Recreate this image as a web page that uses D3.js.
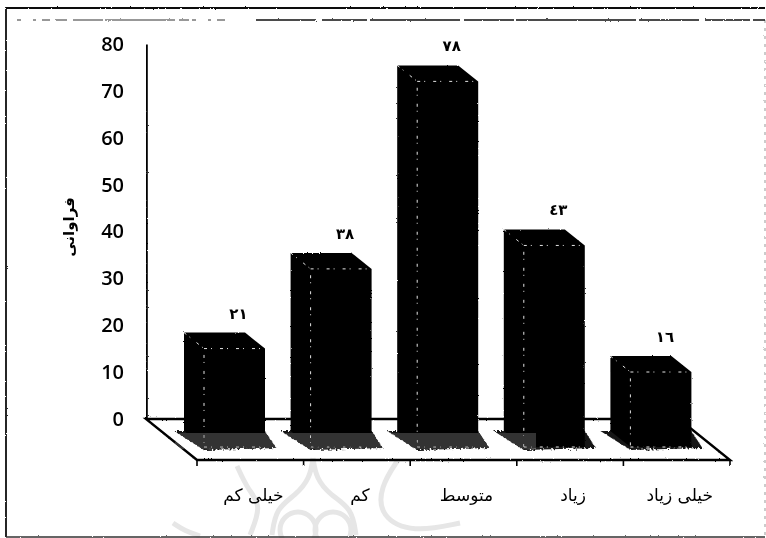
<!DOCTYPE html>
<html lang="fa">
<head>
    <meta charset="UTF-8">
    <title>فراوانی</title>
    <script src="https://d3js.org/d3.v7.min.js"></script>
    <style>
        body { margin: 0; background: #fff; }
        svg { display: block; }
        .yaxis text { font-family: 'Open Sans', sans-serif; font-weight: 600; font-size: 20px; fill: #000; }
        .xaxis text { font-family: 'DejaVu Sans', sans-serif; font-size: 17px; fill: #000; }
        .value { font-family: 'DejaVu Sans', sans-serif; font-weight: bold; font-size: 15px; fill: #000; text-anchor: middle; }
        .ytitle { font-family: 'DejaVu Sans', sans-serif; font-weight: bold; font-size: 15px; fill: #000; text-anchor: middle; }
    </style>
</head>
<body>
<div id="chart"></div>
<script>
    const categories = ["خیلی کم", "کم", "متوسط", "زیاد", "خیلی زیاد"];
    const values = [21, 38, 78, 43, 16];
    const yTicks = [0, 10, 20, 30, 40, 50, 60, 70, 80];
    const yTitle = "فراوانی";

    const width = 766, height = 538;

    // value labels are printed with eastern arabic digits
    const fa = d3.formatLocale({
        decimal: ".", thousands: ",", grouping: [3], currency: ["", ""],
        numerals: ["٠", "١", "٢", "٣", "٤", "٥", "٦", "٧", "٨", "٩"]
    }).format("d");

    const svg = d3.select("#chart").append("svg")
        .attr("width", width)
        .attr("height", height);

    // rough edges, the original is a scan
    const defs = svg.append("defs");
    function roughFilter(id, freq, scale) {
        // user space region, a straight line has an empty bounding box
        const f = defs.append("filter").attr("id", id)
            .attr("filterUnits", "userSpaceOnUse")
            .attr("x", 0).attr("y", 0).attr("width", width).attr("height", height);
        f.append("feTurbulence").attr("type", "fractalNoise").attr("baseFrequency", freq)
            .attr("numOctaves", 2).attr("seed", 3).attr("result", "n");
        f.append("feDisplacementMap").attr("in", "SourceGraphic").attr("in2", "n")
            .attr("scale", scale);
    }
    roughFilter("rough", 0.6, 2);
    roughFilter("rougher", 0.5, 6);

    const y = d3.scaleLinear().domain([0, 80]).range([419, 44]);
    const x = d3.scaleBand().domain(categories).range([197, 730]);

    const y0 = y(0);
    const floorDx = 51, floorDy = 41;   // floor depth in the fake 3d
    const frontOffset = 28;             // front face base below the zero line
    const depthX = 20, depthY = 16;     // bar depth
    const barLeft = 7, barWidth = 61;   // front face inside the band
    const line = d3.line();

    // faint watermark behind everything
    const wm = svg.append("g").attr("fill", "none").attr("stroke", "#e6e6e6").attr("stroke-width", 5);
    const curve = d3.line().curve(d3.curveBasis);
    [
        [[237, 466], [248, 490], [262, 505], [250, 535]],
        [[313, 458], [310, 478], [296, 495], [276, 508], [272, 535]],
        [[313, 458], [316, 478], [330, 495], [352, 508], [356, 535]],
        [[398, 460], [380, 487], [380, 517], [413, 533], [460, 523]],
        [[173, 523], [185, 531], [200, 536]]
    ].forEach(p => wm.append("path").attr("d", curve(p)));
    wm.append("circle").attr("cx", 298).attr("cy", 530).attr("r", 18);
    wm.append("circle").attr("cx", 333).attr("cy", 530).attr("r", 18);

    // outer frame
    const frame = svg.append("g").attr("fill", "none").attr("filter", "url(#rough)");
    frame.append("path").attr("d", line([[6, 537], [6, 8], [765, 8]])).attr("stroke", "#111").attr("stroke-width", 1.8);
    frame.append("path").attr("d", line([[6, 537], [765, 537]])).attr("stroke", "#333").attr("stroke-width", 1.4);
    frame.append("path").attr("d", line([[765, 20], [765, 537]])).attr("stroke", "#999").attr("stroke-width", 1).attr("stroke-dasharray", "3 5");
    frame.append("path").attr("d", line([[17, 20], [230, 20]])).attr("stroke", "#333").attr("stroke-width", 1.1)
        .attr("stroke-dasharray", "4 12 3 6 8 5 12 6 30 2 70 4 10 3");
    frame.append("path").attr("d", line([[256, 20], [765, 20]])).attr("stroke", "#111").attr("stroke-width", 1.4)
        .attr("stroke-dasharray", "60 6 45 3 90 4 50 2 120 3");

    // floor
    const x0 = x.range()[0] - floorDx, x1 = x.range()[1];
    const floor = svg.append("g").attr("fill", "none").attr("stroke", "#000").attr("filter", "url(#rough)");
    floor.append("path")
        .attr("stroke-width", 2.4)
        .attr("d", line([
            [x1 - floorDx, y0],
            [x0, y0],
            [x0 + floorDx, y0 + floorDy],
            [x1, y0 + floorDy],
            [x1 - floorDx, y0]
        ]));
    floor.selectAll(".tick-mark")
        .data(categories.map(c => x(c)).concat([x1]))
        .join("line")
        .attr("x1", d => d).attr("x2", d => d)
        .attr("y1", y0 + floorDy).attr("y2", y0 + floorDy + 6)
        .attr("stroke-width", 1.6);

    const faceLeft = c => x(c) + barLeft;
    const base = y0 + frontOffset;
    const topY = v => y(v) + frontOffset;

    // shadows on the floor
    svg.append("g").attr("filter", "url(#rougher)")
        .selectAll("path")
        .data(categories)
        .join("path")
        .attr("fill", "#151515")
        .attr("d", c => line([
            [faceLeft(c) - depthX - 10, base - depthY],
            [faceLeft(c), base + 3],
            [faceLeft(c) + barWidth + 11, base + 1],
            [faceLeft(c) + barWidth, base - depthY]
        ]) + "Z");

    // bars
    const bars = svg.append("g").selectAll("g")
        .data(categories.map((c, i) => ({ c, v: values[i] })))
        .join("g");

    bars.append("path")
        .attr("fill", "#000")
        .attr("filter", "url(#rough)")
        .attr("d", d => {
            const l = faceLeft(d.c), r = l + barWidth, t = topY(d.v);
            return line([
                [l - depthX, t - depthY],
                [r - depthX, t - depthY],
                [r, t],
                [r, base],
                [l, base],
                [l - depthX, base - depthY]
            ]) + "Z";
        });

    // light edges of the front face
    bars.append("path")
        .attr("fill", "none")
        .attr("stroke", "#fff")
        .attr("stroke-width", 0.9)
        .attr("stroke-dasharray", "3 4 1 8")
        .attr("d", d => {
            const l = faceLeft(d.c), r = l + barWidth, t = topY(d.v);
            return line([[l - depthX, t - depthY], [l, t], [l, base]]) + line([[l, t], [r - 1, t]]) + line([[l, base], [r - 1, base]]);
        });

    // the grey band of the scan over the bar feet, only lifts the blacks
    svg.append("rect")
        .attr("x", 175).attr("y", base - 14)
        .attr("width", 361).attr("height", 16)
        .attr("fill", "#333")
        .style("mix-blend-mode", "lighten");

    // value labels
    svg.append("g").selectAll("text")
        .data(categories.map((c, i) => ({ c, v: values[i] })))
        .join("text")
        .attr("class", "value")
        .attr("x", d => faceLeft(d.c) + barWidth / 2 + 4)
        .attr("y", d => topY(d.v) - 30)
        .text(d => fa(d.v));

    // axes
    const yAxis = svg.append("g")
        .attr("class", "yaxis")
        .attr("transform", `translate(${x0},0)`)
        .call(d3.axisLeft(y).tickValues(yTicks).tickSize(0).tickPadding(22));
    yAxis.select(".domain").attr("stroke", "#000").attr("stroke-width", 2.6).attr("filter", "url(#rough)");

    const xAxis = svg.append("g")
        .attr("class", "xaxis")
        .attr("transform", `translate(0,${y0 + floorDy})`)
        .call(d3.axisBottom(x).tickSize(0).tickPadding(29));
    xAxis.select(".domain").remove();
    xAxis.selectAll("text").attr("dx", 3);

    svg.append("text")
        .attr("class", "ytitle")
        .attr("transform", "translate(74,227) rotate(-90)")
        .text(yTitle);
</script>
</body>
</html>
